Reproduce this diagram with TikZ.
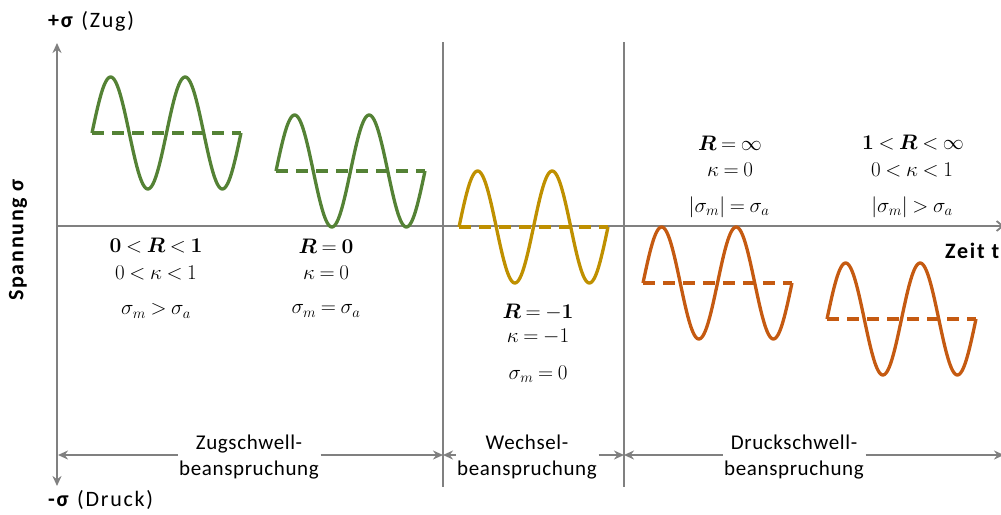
\RequirePackage{fix-cm}
\documentclass[tikz,border=0pt]{standalone}
\usepackage{amsmath,bm}
\usepackage[no-math]{fontspec}
\setmainfont{Carlito}
\newfontfamily\axfont[LetterSpace=8]{Carlito}
\newfontfamily\dimfont[LetterSpace=3]{Carlito}
\usetikzlibrary{arrows.meta}
\definecolor{axgray}{RGB}{128,128,128}
\definecolor{wgreen}{RGB}{84,130,53}
\definecolor{wgold}{RGB}{191,144,0}
\definecolor{worange}{RGB}{197,90,17}
\newcommand\mathspacing{\thickmuskip=4mu\relax\medmuskip=3mu\relax}
\tikzset{
  axisline/.style={draw=axgray,line width=1.8pt},
  arr/.style={-{Stealth[length=10pt,width=9pt]}},
  wavestyle/.style={line width=3.3pt,line join=round},
  meanline/.style={line width=3.3pt,dash pattern=on 12pt off 8pt},
  mathlbl/.style={font=\fontsize{21}{25}\selectfont\mathspacing,inner sep=0pt},
  dimlbl/.style={font=\dimfont\fontsize{21}{26.5}\selectfont,align=center,inner sep=1.5pt},
  axlbl/.style={font=\axfont\fontsize{22}{24}\selectfont,inner sep=0pt},
  axbold/.style={font=\axfont\fontsize{22}{24}\selectfont\bfseries,inner sep=0pt},
}
\newcommand\mywave[3]{%
  \draw[wavestyle,#3] plot[domain=0:149,samples=150,smooth] ({#1+\x},{#2-56*sin(\x*4.83221)});
  \draw[meanline,#3] (#1,#2) -- ({#1+149},#2);
}
\begin{document}
\begin{tikzpicture}[x=1pt,y=-1pt]
\useasboundingbox (0,0) rectangle (1001,514);
% axes
\coordinate (vtop) at (57,43);
\coordinate (vbot) at (57,486);
\coordinate (horig) at (57,226);
\coordinate (hend) at (1004,226);
\draw[axisline,{Stealth[length=10pt,width=9pt]}-{Stealth[length=10pt,width=9pt]}] (vtop) -- (vbot);
\draw[axisline,-{Straight Barb[length=6pt,width=10pt]}] (horig) -- (hend);
% separators
\coordinate (s1t) at (443,42); \coordinate (s1b) at (443,487);
\coordinate (s2t) at (624,42); \coordinate (s2b) at (624,487);
\draw[axisline] (s1t) -- (s1b);
\draw[axisline] (s2t) -- (s2b);
% axis labels
\node[axlbl,anchor=west] (plus) at (48,21) {\textbf{+σ} (Zug)};
\node[axlbl,anchor=west] (minus) at (48,500) {\textbf{-σ} (Druck)};
\node[axbold,rotate=90] (span) at (18,240) {Spannung σ};
\node[axbold,anchor=west] (zeit) at (945,251) {Zeit t};
% waves
\mywave{92}{133}{wgreen}
\mywave{276}{171}{wgreen}
\mywave{459}{227}{wgold}
\mywave{643}{283}{worange}
\mywave{827}{319}{worange}
% math labels
\node[mathlbl] (a1) at (156,246) {$\mathbf{0} < \bm{R} < \mathbf{1}$};
\node[mathlbl] (a2) at (156,273) {$0 < \kappa < 1$};
\node[mathlbl] (a3) at (156,311) {$\sigma_m > \sigma_a$};
\node[mathlbl] (b1) at (326,246) {$\bm{R} = \mathbf{0}$};
\node[mathlbl] (b2) at (326,273) {$\kappa = 0$};
\node[mathlbl] (b3) at (326,311) {$\sigma_m = \sigma_a$};
\node[mathlbl] (c1) at (538,312) {$\bm{R} = -\mathbf{1}$};
\node[mathlbl] (c2) at (538,337) {$\kappa = -1$};
\node[mathlbl] (c3) at (538,374) {$\sigma_m = 0$};
\node[mathlbl] (d1) at (730,143) {$\bm{R} = \infty$};
\node[mathlbl] (d2) at (730,170) {$\kappa = 0$};
\node[mathlbl] (d3) at (729,207) {$|\sigma_m| = \sigma_a$};
\node[mathlbl] (e1) at (913,143) {$\mathbf{1} < \bm{R} < \infty$};
\node[mathlbl] (e2) at (912,170) {$0 < \kappa < 1$};
\node[mathlbl] (e3) at (912,207) {$|\sigma_m| > \sigma_a$};
% dimension arrows
\coordinate (d0) at (58,455);
\coordinate (dA) at (443,455);
\coordinate (dB) at (624,455);
\coordinate (dC) at (1004,455);
\node[dimlbl] (zug) at (249,457) {Zugschwell-\\beanspruchung};
\node[dimlbl] (wech) at (527,457) {Wechsel-\\beanspruchung};
\node[dimlbl] (druck) at (794,457) {Druckschwell-\\beanspruchung};
\draw[axisline,arr] (zug.west |- d0) -- (d0);
\draw[axisline,arr] (zug.east |- d0) -- (dA);
\draw[axisline,arr] (wech.west |- d0) -- (dA);
\draw[axisline,arr] (wech.east |- d0) -- (dB);
\draw[axisline,arr] (druck.west |- d0) -- (dB);
\draw[axisline,arr] (druck.east |- d0) -- (dC);
\end{tikzpicture}
\end{document}
